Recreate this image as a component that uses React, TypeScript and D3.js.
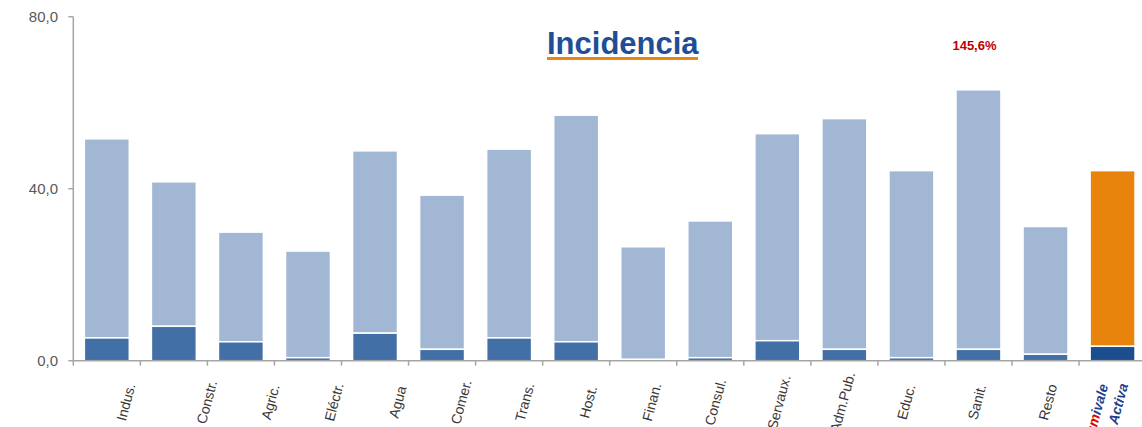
import React from "react";
import * as d3 from "d3";

// Sector categories (last one is the mutual's own aggregate)
const categories = [
  "Indus.", "Constr.", "Agric.", "Eléctr.", "Agua", "Comer.", "Trans.", "Host.",
  "Finan.", "Consul.", "Servaux.", "Adm.Pub.", "Educ.", "Sanit.", "Resto", "umivale Activa",
];
// Lower (dark) segment of each bar
const baseValues = [5.3, 8.0, 4.4, 0.7, 6.4, 2.65, 5.3, 4.4, 0.3, 0.7, 4.65, 2.65, 0.7, 2.65, 1.5, 3.35];
// Full bar height
const totalValues = [51.6, 41.6, 29.9, 25.5, 48.8, 38.5, 49.2, 57.1, 26.5, 32.5, 52.8, 56.3, 44.2, 63.0, 31.2, 44.2];
const yTicks = [0, 40, 80];
const annotation = { category: "Sanit.", text: "145,6%" };

const W = 1142;
const H = 427;
const left = 73.3;
const step = 67.05;
const y0 = 360.7;
const yTop = 16.7;

const COLORS = {
  light: "#a2b7d4",
  dark: "#426fa6",
  ownTop: "#e8830b",
  ownBase: "#1b4e8f",
  axis: "#a6a6a6",
  tickText: "#595959",
  label: "#383838",
  title: "#1f4e96",
  underline: "#e8850f",
  red: "#c00000",
};

export default function App() {
  const x = d3
    .scaleBand<string>()
    .domain(categories)
    .range([left, left + step * categories.length])
    .paddingInner(0.33)
    .paddingOuter(0.165);
  const y = d3.scaleLinear().domain([0, 80]).range([y0, yTop]);
  // Rotated category labels sit on their own track below the axis
  const labelX = d3.scaleLinear().domain([0, 1, 12, 14]).range([125.8, 206.7, 906, 1047.7]);
  const fmt = (v: number) => d3.format(".1f")(v).replace(".", ",");
  const bw = x.bandwidth();
  const st = x.step();
  const last = categories.length - 1;
  const labelY = 402;

  return (
    <svg
      width={W}
      height={H}
      style={{ position: "absolute", left: 0, top: 0, display: "block", background: "#fff" }}
      fontFamily="'Liberation Sans', Arial, sans-serif"
    >
      {/* bars */}
      {categories.map((c, i) => {
        const own = i === last;
        const bx = x(c)!;
        return (
          <g key={c}>
            <rect
              x={bx}
              width={bw}
              y={y(totalValues[i])}
              height={y(baseValues[i]) - y(totalValues[i])}
              fill={own ? COLORS.ownTop : COLORS.light}
              stroke="#fff"
              strokeWidth={1.5}
            />
            <rect
              x={bx}
              width={bw}
              y={y(baseValues[i])}
              height={y(0) - y(baseValues[i])}
              fill={own ? COLORS.ownBase : COLORS.dark}
              stroke="#fff"
              strokeWidth={1.5}
            />
          </g>
        );
      })}

      {/* y axis */}
      <line x1={left} x2={left} y1={y(80)} y2={y(0)} stroke={COLORS.axis} strokeWidth={1.5} />
      {yTicks.map((t) => (
        <g key={t}>
          <line x1={left - 5} x2={left} y1={y(t)} y2={y(t)} stroke={COLORS.axis} strokeWidth={1.5} />
          <text
            x={58}
            y={y(t)}
            dy="0.35em"
            textAnchor="end"
            fontSize={15}
            fill={COLORS.tickText}
          >
            {fmt(t)}
          </text>
        </g>
      ))}

      {/* x axis */}
      <line x1={left} x2={W} y1={y(0)} y2={y(0)} stroke={COLORS.axis} strokeWidth={1.5} />
      {categories.map((c) => {
        const tx = x(c)! - (st - bw) / 2;
        return <line key={c} x1={tx} x2={tx} y1={y(0)} y2={y(0) + 5} stroke={COLORS.axis} strokeWidth={1.5} />;
      })}

      {/* category labels */}
      {categories.slice(0, last).map((c, i) => (
        <text
          key={c}
          transform={`translate(${labelX(i)},${labelY}) rotate(-75)`}
          textAnchor="middle"
          dominantBaseline="central"
          fontSize={14}
          fill={COLORS.label}
        >
          {c}
        </text>
      ))}
      <g
        transform={`translate(${labelX(last) - 11},${labelY + 2}) rotate(-75)`}
        fontSize={14}
        fontWeight="bold"
        fontStyle="italic"
      >
        <text x={-8} y={-9} textAnchor="middle" dominantBaseline="central" fill="#1f3f8f">
          <tspan fill="#e00000">um</tspan>ivale
        </text>
        <text x={3} y={10} textAnchor="middle" dominantBaseline="central" fill="#1f3f8f">
          Activa
        </text>
      </g>

      {/* title */}
      <text x={547} y={53.5} fontSize={31} fontWeight="bold" fill={COLORS.title}>
        Incidencia
      </text>
      <rect x={547} y={57} width={151} height={3} fill={COLORS.underline} />

      {/* annotation */}
      <text
        x={x(annotation.category)! + bw / 2 - 4}
        y={49.5}
        textAnchor="middle"
        fontSize={13}
        fontWeight="bold"
        fill={COLORS.red}
      >
        {annotation.text}
      </text>
    </svg>
  );
}
